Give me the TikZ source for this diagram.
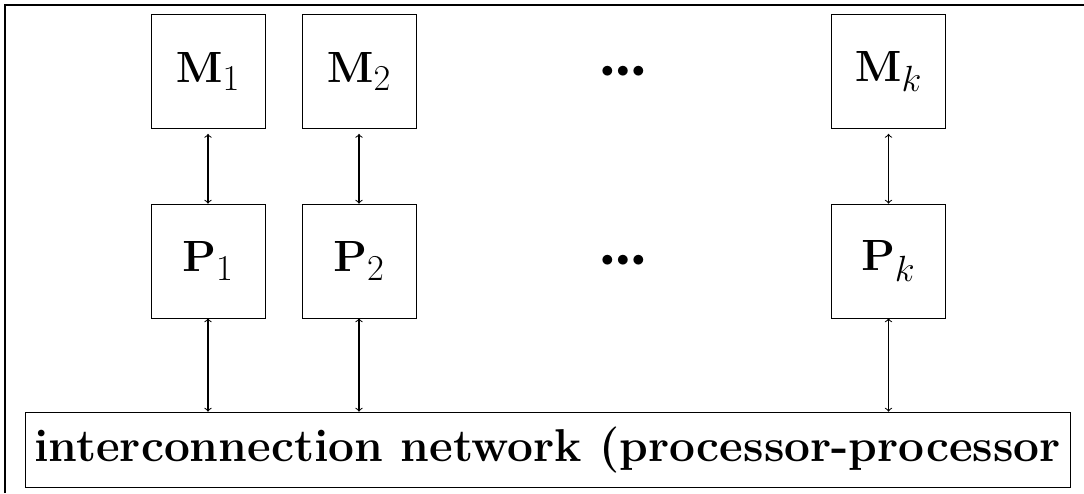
\documentclass[tikz,border=0pt]{standalone}
\usepackage{amssymb,amsmath}
\usepackage{tikz}
\usetikzlibrary{arrows}

\begin{document}
\begin{tikzpicture}[<->, auto, semithick]
  \tikzstyle{unit}=[draw=black, thin, shape=rectangle, minimum width=2.28cm, minimum height=2.28cm, font=\Huge]
  \tikzstyle{empt}=[draw=none, fill=none, font=\Large]
  \tikzstyle{net}=[draw=black, thin, shape=rectangle, minimum height=1.5cm, minimum width=20.9cm, font=\fontsize{26.2}{30}\selectfont\bfseries]
\useasboundingbox (0,0) rectangle (21.68,-9.86);
% frame
\coordinate (fbl) at (0.1,-9.86);
\coordinate (ftl) at (0.1,-0.1);
\coordinate (ftr) at (21.68,-0.1);
\draw[-] (fbl) -- (ftl) -- (ftr);
% memories
\node[unit] (M1) at (4.16,-1.43) {$\mathbf{M}_1$};
\node[unit] (M2) at (7.18,-1.43) {$\mathbf{M}_2$};
\node[empt] (Md) at (12.46,-1.43) {${\bullet}\mkern2mu{\bullet}\mkern2mu{\bullet}$};
\node[unit] (Mk) at (17.77,-1.43) {$\mathbf{M}_k$};
% processors
\node[unit] (P1) at (4.16,-5.22) {$\mathbf{P}_1$};
\node[unit] (P2) at (7.18,-5.22) {$\mathbf{P}_2$};
\node[empt] (Pd) at (12.46,-5.22) {${\bullet}\mkern2mu{\bullet}\mkern2mu{\bullet}$};
\node[unit] (Pk) at (17.77,-5.22) {$\mathbf{P}_k$};
% network
\node[net] (net) at (10.95,-8.99) {interconnection network (processor-processor};
\path
(M1) edge [shorten <=0.1cm] (P1)
(M2) edge [shorten <=0.1cm] (P2)
(Mk) edge [shorten <=0.1cm] (Pk)
(P1) edge (P1 |- net.north)
(P2) edge (P2 |- net.north)
(Pk) edge (Pk |- net.north);
\end{tikzpicture}
\end{document}
